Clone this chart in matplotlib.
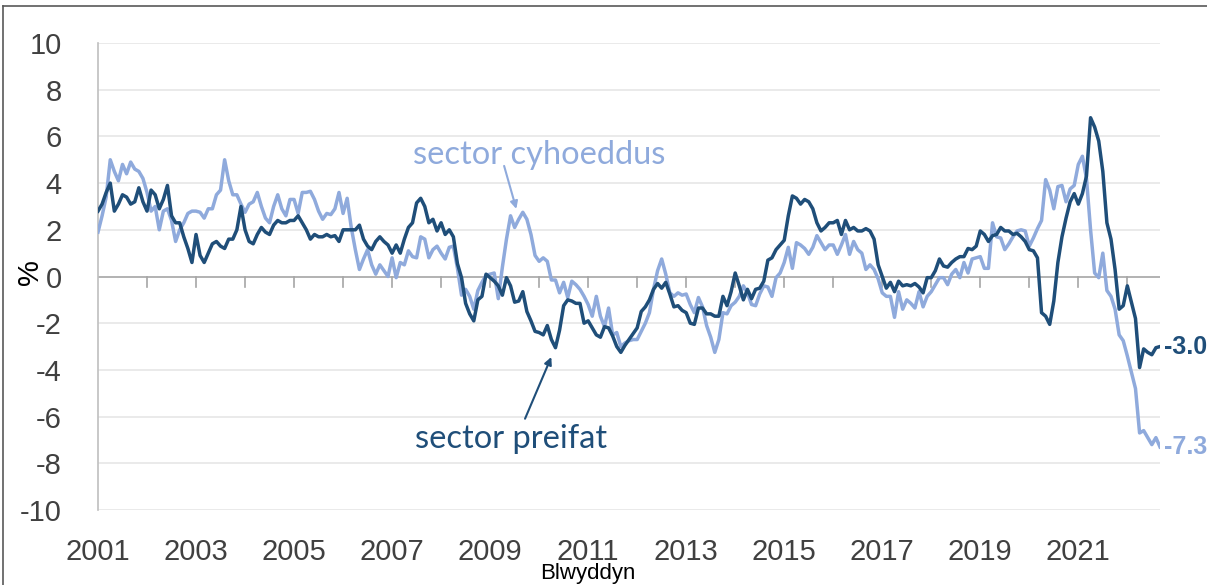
import numpy as np
import matplotlib
matplotlib.use("Agg")
import matplotlib.pyplot as plt
from matplotlib.lines import Line2D

# monthly % values, Jan 2001 .. Sep 2022
private = [
    2.8, 3.1, 3.6, 4.0, 2.8, 3.1, 3.5, 3.4, 3.1, 3.2, 3.8, 3.2,
    2.8, 3.7, 3.5, 2.9, 3.3, 3.9, 2.6, 2.3, 2.3, 1.7, 1.2, 0.6,
    1.8, 0.9, 0.6, 1.0, 1.4, 1.5, 1.3, 1.2, 1.6, 1.6, 2.0, 3.0,
    2.0, 1.5, 1.4, 1.8, 2.1, 1.9, 1.8, 2.2, 2.4, 2.3, 2.3, 2.4,
    2.4, 2.6, 2.3, 2.0, 1.6, 1.8, 1.7, 1.7, 1.8, 1.7, 1.75, 1.5,
    2.0, 2.0, 2.0, 2.0, 2.2, 1.6, 1.3, 1.15, 1.5, 1.7, 1.5, 1.35,
    1.0, 1.35, 1.0, 1.6, 2.1, 2.3, 3.15, 3.35, 3.0, 2.3, 2.45, 1.95,
    2.3, 1.8, 2.0, 1.7, 0.55, -0.05, -1.15, -1.6, -1.9, -1.0, -0.85, 0.1,
    -0.05, -0.2, -0.4, -0.8, -0.05, -0.4, -1.1, -1.05, -0.65, -1.5, -1.9, -2.35,
    -2.4, -2.5, -2.1, -2.7, -3.05, -2.3, -1.25, -1.0, -1.05, -1.15, -1.15, -2.0,
    -1.9, -2.2, -2.5, -2.6, -2.15, -2.2, -2.55, -3.0, -3.25, -2.95, -2.7, -2.45,
    -2.2, -1.5, -1.3, -1.0, -0.55, -0.3, -0.5, -0.25, -0.75, -1.3, -1.25, -1.45,
    -1.55, -2.0, -2.05, -1.35, -1.35, -1.6, -1.6, -1.7, -1.7, -0.85, -1.25, -0.65,
    0.15, -0.4, -1.0, -0.55, -0.95, -0.55, -0.5, -0.2, 0.7, 0.8, 1.15, 1.35,
    1.55, 2.6, 3.45, 3.35, 3.1, 3.3, 3.2, 2.9, 2.3, 1.95, 2.1, 2.3,
    2.3, 2.4, 1.8, 2.4, 2.0, 2.1, 1.95, 1.95, 2.05, 1.95, 1.6, 0.5,
    0.0, -0.5, -0.25, -0.65, -0.2, -0.4, -0.35, -0.4, -0.3, -0.45, -0.7, -0.05,
    -0.05, 0.25, 0.75, 0.45, 0.4, 0.6, 0.75, 0.85, 0.85, 1.2, 1.15, 1.3,
    1.95, 1.8, 1.5, 1.75, 1.8, 2.1, 1.95, 1.95, 1.8, 1.85, 1.7, 1.5,
    1.15, 1.1, 0.8, -1.55, -1.7, -2.05, -1.05, 0.6, 1.7, 2.5, 3.2, 3.55,
    3.1, 3.55, 4.3, 6.8, 6.4, 5.8, 4.5, 2.3, 1.6, 0.3, -1.4, -1.25,
    -0.4, -1.1, -1.8, -3.9, -3.1, -3.25, -3.35, -3.05, -3.0,
]
public = [
    1.9, 2.6, 3.4, 5.0, 4.5, 4.1, 4.8, 4.4, 4.9, 4.6, 4.5, 4.2,
    3.6, 2.8, 3.0, 2.0, 2.8, 2.9, 2.4, 1.5, 2.0, 2.3, 2.7, 2.8,
    2.8, 2.75, 2.5, 2.9, 2.9, 3.5, 3.7, 5.0, 4.1, 3.5, 3.5, 3.1,
    2.75, 3.1, 3.2, 3.6, 3.0, 2.5, 2.3, 3.0, 3.5, 2.9, 2.6, 3.3,
    3.3, 2.7, 3.6, 3.6, 3.65, 3.3, 2.8, 2.45, 2.7, 2.65, 2.9, 3.6,
    2.7, 3.35, 2.1, 1.15, 0.3, 0.75, 1.15, 0.5, 0.1, 0.5, 0.25, 0.0,
    0.8, -0.05, 0.6, 0.5, 1.1, 0.85, 0.8, 1.7, 1.6, 0.8, 1.15, 1.3,
    1.0, 0.75, 1.25, 1.3, 0.35, -0.8, -0.55, -0.85, -1.4, -0.6, -0.25, 0.05,
    0.1, 0.15, -0.95, 0.4, 1.6, 2.6, 2.1, 2.45, 2.75, 2.45, 1.8, 0.9,
    0.65, 0.8, 0.65, -0.15, -0.15, -0.7, -0.25, -0.9, -0.2, -0.35, -0.55, -0.85,
    -1.2, -1.7, -0.85, -1.7, -2.15, -1.35, -2.5, -2.4, -3.0, -2.85, -2.75, -2.7,
    -2.7, -2.35, -2.0, -1.55, -0.55, 0.25, 0.75, 0.1, -0.7, -0.85, -0.7, -0.8,
    -0.75, -1.2, -1.55, -0.9, -1.3, -2.1, -2.6, -3.25, -2.7, -1.55, -1.6, -1.25,
    -1.1, -0.85, -0.4, -0.7, -1.2, -1.25, -0.75, -0.4, -0.45, -0.85, -0.05, 0.15,
    0.6, 1.25, 0.35, 1.45, 1.35, 1.2, 0.95, 1.25, 1.75, 1.45, 1.15, 1.35,
    1.35, 0.95, 1.35, 1.8, 0.95, 1.5, 1.15, 1.0, 0.3, 0.5, 0.3, -0.1,
    -0.7, -0.85, -0.85, -1.75, -0.65, -1.4, -1.0, -1.15, -1.35, -0.65, -1.3, -0.85,
    -0.65, -0.35, -0.05, -0.05, -0.35, 0.1, 0.3, -0.05, 0.6, 0.15, 0.75, 0.8,
    0.85, 0.35, 0.35, 2.3, 1.7, 1.65, 1.15, 1.4, 1.7, 1.95, 2.0, 1.95,
    1.3, 1.65, 2.05, 2.4, 4.15, 3.7, 2.9, 3.85, 3.9, 3.2, 3.75, 3.9,
    4.8, 5.15, 4.2, 2.0, 0.15, -0.05, 1.0, -0.6, -0.85, -1.4, -2.5, -2.75,
    -3.4, -4.1, -4.8, -6.7, -6.6, -6.9, -7.2, -6.9, -7.3,
]
start_year = 2001
year_labels = [str(y) for y in range(2001, 2022, 2)]
y_ticks = list(range(-10, 11, 2))

dark = "#1f4e79"
light = "#8faadc"
tick_color = "#404040"

x = start_year + np.arange(len(private)) / 12.0

fig = plt.figure(figsize=(12.07, 5.85), dpi=100)
ax = fig.add_axes([98 / 1207, 1 - 510 / 585, (1160 - 98) / 1207, (510 - 43) / 585])

for yv in y_ticks:
    if yv != 0:
        ax.axhline(yv, color="#e8e8e8", lw=1.3, zorder=0)
ax.axhline(0, color="#a6a6a6", lw=1.2, zorder=1)

ax.plot(x, public, color=light, lw=2.5, zorder=3, solid_joinstyle="round")
ax.plot(x, private, color=dark, lw=2.5, zorder=4, solid_joinstyle="round")

ax.set_xlim(start_year, x[-1])
ax.set_ylim(-10, 10)

# yearly tick marks hanging from the zero line
for yr in range(2002, 2023):
    ax.plot([yr, yr], [0, -0.43], color="#a6a6a6", lw=1.2, zorder=1, clip_on=False)

for s in ["top", "right", "bottom"]:
    ax.spines[s].set_visible(False)
ax.spines["left"].set_color("#bfbfbf")
ax.spines["left"].set_linewidth(1.2)

ax.set_yticks(y_ticks)
ax.set_yticklabels([str(v) for v in y_ticks])
ax.set_xticks(range(2001, 2022, 2))
ax.set_xticklabels(year_labels)
ax.tick_params(axis="y", length=0, pad=26, labelsize=21, labelcolor=tick_color)
ax.tick_params(axis="x", length=0, pad=20, labelsize=21, labelcolor=tick_color)
for lab in ax.get_xticklabels() + ax.get_yticklabels():
    lab.set_fontfamily("Liberation Sans")

# axis titles placed where the reference has them
fig.text(30 / 1207, 1 - 272 / 585, "%", rotation=90, fontsize=21, family="Liberation Sans",
         color="black", ha="center", va="center")
fig.text(588 / 1207, 1 - 574 / 585, "Blwyddyn", fontsize=16, family="Liberation Sans",
         color="black", ha="center", va="center")

# series labels with arrows
ax.text(2007.43, 5.22, "sector cyhoeddus", color=light, fontsize=23.5, family="Lato",
        ha="left", va="center")
ax.annotate("", xy=(2009.55, 2.78), xytext=(2009.27, 4.85),
            arrowprops=dict(arrowstyle="-|>", color=light, lw=1.5, mutation_scale=11))
ax.text(2007.47, -6.98, "sector preifat", color=dark, fontsize=23.5, family="Lato",
        ha="left", va="center")
ax.annotate("", xy=(2010.27, -3.34), xytext=(2009.69, -6.2),
            arrowprops=dict(arrowstyle="-|>", color=dark, lw=1.5, mutation_scale=11))

# end values
ax.text(x[-1] + 0.08, private[-1], f"{private[-1]:.1f}", color=dark, fontsize=18,
        fontweight="bold", family="Liberation Sans", ha="left", va="center", clip_on=False)
ax.text(x[-1] + 0.08, public[-1], f"{public[-1]:.1f}", color=light, fontsize=18,
        fontweight="bold", family="Liberation Sans", ha="left", va="center", clip_on=False)

# frame around the figure
fig.add_artist(Line2D([3 / 1207, 1.0], [1 - 6 / 585, 1 - 6 / 585], color="#595959", lw=1.2,
                      transform=fig.transFigure))
fig.add_artist(Line2D([3 / 1207, 3 / 1207], [0.0, 1 - 6 / 585], color="#595959", lw=1.2,
                      transform=fig.transFigure))

fig.savefig("out.png", dpi=100)
